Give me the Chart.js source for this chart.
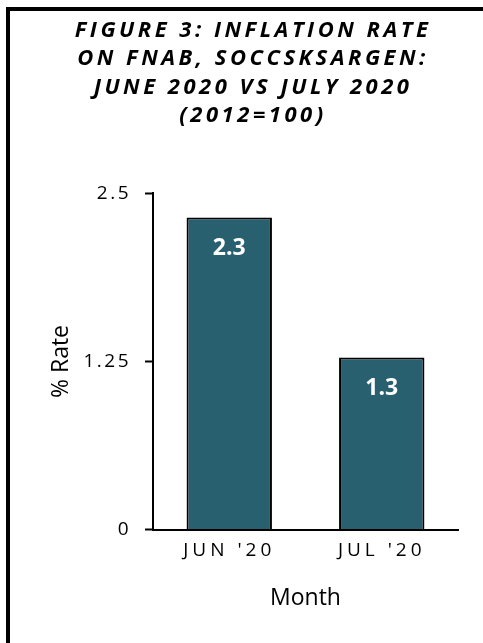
<!DOCTYPE html>
<html>
<head>
<meta charset="utf-8">
<title>Figure 3: Inflation Rate on FNAB, SOCCSKSARGEN</title>
<script src="https://cdn.jsdelivr.net/npm/chart.js@4.4.1/dist/chart.umd.min.js"></script>
<style>
  html, body { margin: 0; padding: 0; background: #fff; overflow: hidden; }
  #wrap { position: relative; width: 483px; height: 643px; }
  #frame { position: absolute; left: 6px; top: 7px; width: 600px; height: 800px; border: 4px solid #000; pointer-events: none; }
  canvas { position: absolute; left: 0; top: 0; }
</style>
</head>
<body>
<div id="wrap">
  <canvas id="chart" width="483" height="643"></canvas>
  <div id="frame"></div>
</div>
<script>
// Chart data
const titleLines = ['FIGURE 3: INFLATION RATE', 'ON FNAB, SOCCSKSARGEN:', 'JUNE 2020 VS JULY 2020', '(2012=100)'];
const months = ["JUN '20", "JUL '20"];
const rates = [2.32, 1.28];
const yTicks = [0, 1.25, 2.5];

const barColor = '#29606f';

Chart.defaults.font.family = "'Open Sans', sans-serif";
Chart.defaults.color = '#000';

// Letter spacing for title and tick labels (canvas has no css letter-spacing)
const spacingPlugin = {
  id: 'spacing',
  beforeDraw(chart) {
    if (chart._spaced) return;
    chart._spaced = true;
    const ctx = chart.ctx;
    const wrap = (obj, fn, px) => {
      const orig = obj[fn];
      obj[fn] = function (...args) {
        ctx.letterSpacing = px;
        orig.apply(this, args);
        ctx.letterSpacing = '0px';
      };
    };
    wrap(chart.titleBlock, 'draw', '3.5px');
    wrap(chart.scales.x, 'drawLabels', '4px');
    wrap(chart.scales.y, 'drawLabels', '2.5px');
  }
};

// White value labels inside the bars
const valueLabels = {
  id: 'valueLabels',
  afterDatasetsDraw(chart) {
    const ctx = chart.ctx;
    const meta = chart.getDatasetMeta(0);
    ctx.save();
    ctx.fillStyle = '#fff';
    ctx.font = "bold 23px 'Open Sans'";
    ctx.textAlign = 'center';
    ctx.textBaseline = 'middle';
    meta.data.forEach((bar, i) => {
      ctx.fillText(rates[i].toFixed(1), bar.x, bar.y + 31);
    });
    ctx.restore();
  }
};

const ctx = document.getElementById('chart').getContext('2d');
const chart = new Chart(ctx, {
  type: 'bar',
  data: {
    labels: months,
    datasets: [{
      data: rates,
      backgroundColor: barColor,
      borderColor: '#000',
      borderWidth: 2,
      barPercentage: 0.56,
      categoryPercentage: 1
    }]
  },
  options: {
    responsive: false,
    animation: false,
    layout: { padding: { left: 48, right: 25, top: 0, bottom: 31 } },
    plugins: {
      legend: { display: false },
      tooltip: { enabled: false },
      title: {
        display: true,
        text: titleLines,
        color: '#000',
        font: { size: 22, weight: 'bold', style: 'italic', lineHeight: 1.3 },
        padding: { top: 16, bottom: 63 }
      }
    },
    scales: {
      x: {
        grid: { display: false },
        border: { display: true, color: '#000', width: 2 },
        ticks: { color: '#000', font: { size: 19 }, padding: 2 },
        title: { display: true, text: 'Month', color: '#000', font: { size: 23 }, padding: { top: 20, bottom: 0 } }
      },
      y: {
        min: 0,
        max: 2.5,
        afterBuildTicks: (scale) => {
          scale.ticks = yTicks.map(v => ({ value: v }));
        },
        afterFit: (scale) => {
          scale.width = 105;
        },
        grid: { drawOnChartArea: false, drawTicks: true, tickLength: 8, tickWidth: 2, tickColor: '#000' },
        border: { color: '#000', width: 2 },
        ticks: { color: '#000', font: { size: 19 }, padding: 14, callback: (v) => String(v) },
        title: { display: true, text: '% Rate', color: '#000', font: { size: 23 }, padding: 0 }
      }
    }
  },
  plugins: [spacingPlugin, valueLabels]
});
</script>
</body>
</html>
